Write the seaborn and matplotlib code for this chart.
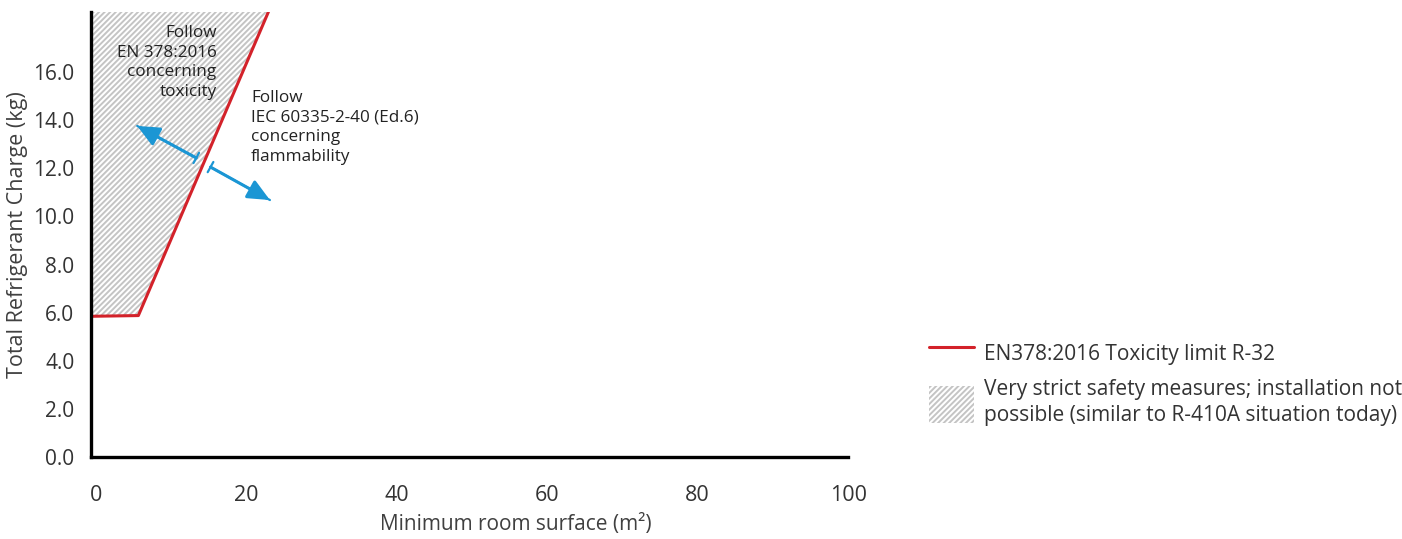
import matplotlib
matplotlib.use('Agg')
import matplotlib.pyplot as plt
import seaborn as sns
import pandas as pd
from matplotlib.lines import Line2D
from matplotlib.patches import Patch

sns.set_theme(style='white')
plt.rcParams['font.family'] = ['Open Sans', 'DejaVu Sans']
plt.rcParams['hatch.color'] = '#c4c4c4'
plt.rcParams['hatch.linewidth'] = 1.4

# toxicity limit line
surface = [-0.7, 5.6, 22.9]
charge = [5.85, 5.88, 18.5]
x_ticks = [0, 20, 40, 60, 80, 100]
y_ticks = [0, 2, 4, 6, 8, 10, 12, 14, 16]

blue = '#1b96d4'
red = '#d3222a'
hatch = '/' * 6
df = pd.DataFrame({'surface': surface, 'charge': charge})

fig = plt.figure(figsize=(14.02, 5.39), dpi=100)
ax = fig.add_axes([0.0649, 0.152, 0.540, 0.826])

# hatched area above the limit line
ax.fill_between(surface, charge, 18.5, facecolor='white', edgecolor='#c4c4c4',
                hatch=hatch, linewidth=0)
sns.lineplot(data=df, x='surface', y='charge', color=red, linewidth=2.2, ax=ax,
             sort=False, estimator=None)

ax.set_xlim(-0.7, 100)
ax.set_ylim(0, 18.5)
ax.set_xticks(x_ticks)
ax.set_xticklabels([str(t) for t in x_ticks])
ax.set_yticks(y_ticks)
ax.set_yticklabels([f'{t:.1f}' for t in y_ticks])
ax.tick_params(axis='x', length=0, pad=20, labelsize=15.5, labelcolor='#333333')
ax.tick_params(axis='y', length=0, pad=12, labelsize=15, labelcolor='#333333')
ax.set_xlabel('Minimum room surface (m²)', fontsize=15, color='#404040')
ax.set_ylabel('Total Refrigerant Charge (kg)', fontsize=15.5, color='#404040', labelpad=4)
ax.xaxis.set_label_coords(0.561, -0.128)

for s in ['top', 'right']:
    ax.spines[s].set_visible(False)
for s in ['left', 'bottom']:
    ax.spines[s].set_color('black')
    ax.spines[s].set_linewidth(2.4)

ax.text(16.0, 17.95, 'Follow\nEN 378:2016\nconcerning\ntoxicity', ha='right', va='top',
        fontsize=12.3, color='#222222', linespacing=1.3)
ax.text(20.6, 15.25, 'Follow\nIEC 60335-2-40 (Ed.6)\nconcerning\nflammability', ha='left',
        va='top', fontsize=12.3, color='#222222', linespacing=1.3)

# blue arrows with a bar at the tail
for tail, head in [((13.3, 12.43), (5.45, 13.76)), ((15.2, 12.05), (23.1, 10.68))]:
    ax.annotate('', xy=head, xytext=tail,
                arrowprops=dict(arrowstyle='-|>,head_length=1.1,head_width=0.5',
                                color=blue, lw=2.2, shrinkA=0, shrinkB=0))
    ax.annotate('', xy=head, xytext=tail,
                arrowprops=dict(arrowstyle='|-|,widthA=0.35,widthB=0',
                                color=blue, lw=1.6, shrinkA=0, shrinkB=0))

handles = [Line2D([0], [0], color=red, lw=2.2),
           Patch(facecolor='white', edgecolor='#c4c4c4', hatch=hatch, linewidth=0)]
labels = ['EN378:2016 Toxicity limit R-32',
          'Very strict safety measures; installation not\npossible (similar to R-410A situation today)']
leg = fig.legend(handles, labels, loc='upper left', bbox_to_anchor=(0.657, 0.395),
                 frameon=False, fontsize=15, handlelength=2.15, handleheight=2.4,
                 handletextpad=0.45, labelspacing=0.35, borderaxespad=0)
for t in leg.get_texts():
    t.set_color('#333333')
    t.set_linespacing(1.3)

fig.savefig('out.png', dpi=100)
